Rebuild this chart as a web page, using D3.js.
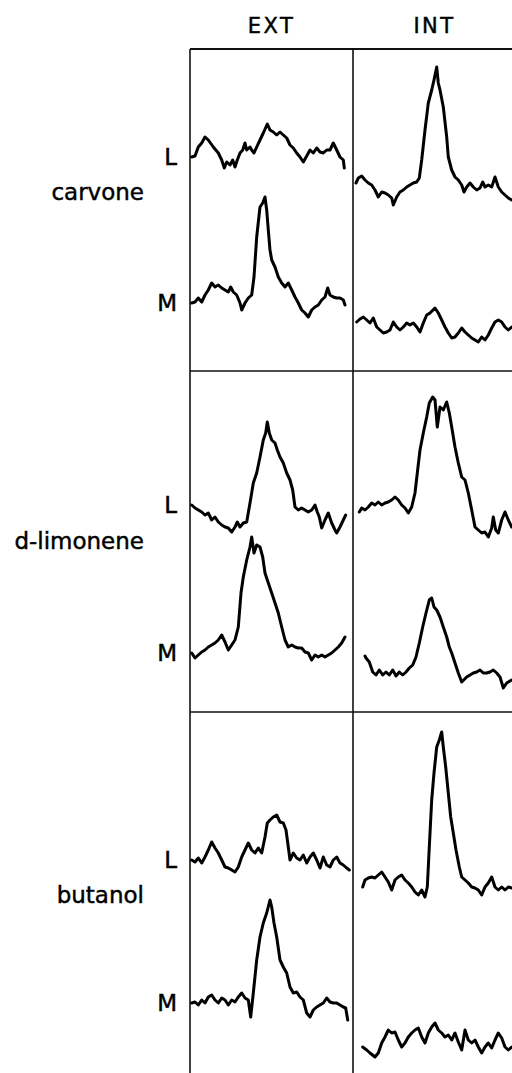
<!DOCTYPE html>
<html>
<head>
<meta charset="utf-8">
<script src="https://cdn.jsdelivr.net/npm/d3@7"></script>
<style>
  html, body { margin: 0; padding: 0; background: #fff; }
  svg { display: block; }
  text { font-family: "DejaVu Sans", sans-serif; fill: #000; stroke: #000; stroke-width: 0.45px; }
</style>
</head>
<body>
<div id="chart"></div>
<script>
'use strict';

// categories
const compounds = ["carvone", "d-limonene", "butanol"];
const conditions = ["EXT", "INT"];
const stimuli = ["L", "M"];

// traces: [time, response] (arbitrary units)
const carvoneExtL = [[1.7,232],[5,233],[8.3,242],[11.7,246],[15,252],[18.3,249],[23.3,242],[28.3,236],[31.7,229],[34.3,221],[36.7,227],[40,224],[42.7,229],[45,222],[47.3,229],[50,236],[52.7,239],[55,246],[56.7,239],[60,242],[61.7,239],[64,236],[66.7,242],[70,249],[73.3,256],[77.3,265],[80,259],[83.3,257],[86.7,254],[90,257],[93.3,254],[96.7,251],[100,244],[103.3,241],[106.7,236],[110,232],[113.3,227],[116.7,233],[120,239],[123.3,236],[126.7,241],[130,237],[133.3,236],[136.7,239],[140,239],[143.3,246],[146.7,239],[150,232],[153.3,229],[154.3,221]];
const carvoneExtM = [[1.7,86],[5,87],[8.3,91],[11.7,87],[15,94],[18.3,99],[21.7,106],[25,102],[28.3,104],[31.7,101],[35,99],[38.3,97],[40.7,102],[43.3,97],[46.7,94],[50,86],[51.7,79],[55,86],[58.3,91],[61.7,94],[64,112],[66.7,152],[70,182],[72.7,186],[75,192],[76.7,179],[78.3,159],[80,139],[81.7,129],[85,122],[88.3,112],[91.7,106],[95,102],[98.3,106],[101.7,99],[105,92],[108.3,86],[111.7,79],[115,76],[118.3,72],[121.7,79],[125,82],[128.3,84],[131.7,89],[135,92],[137.7,101],[140,94],[143.3,92],[146.7,91],[150,91],[153.3,89],[155,84]];
const carvoneIntL = [[3,206],[5.3,211],[8.7,213],[12,209],[15.3,206],[18.7,204],[22,199],[25.3,192],[28.7,197],[32,196],[35.3,194],[38.7,191],[40.3,184],[43.7,192],[47,197],[50.3,199],[53.7,202],[57,204],[60.3,206],[63.7,207],[66.3,211],[68.7,229],[72,259],[75.3,286],[78.7,299],[81,309],[83.7,322],[85.3,306],[87,299],[90.3,282],[93.7,252],[95.3,232],[98.7,219],[102,212],[105.3,209],[108.7,204],[111,197],[113.7,202],[117,206],[120.3,202],[123.7,199],[127,201],[129.7,207],[132,202],[135.3,204],[138.7,202],[142,212],[145.3,202],[148.7,197],[152,194],[155.3,191],[158.7,189]];
const carvoneIntM = [[3.7,67],[7,70],[10.3,72],[13.7,69],[17,66],[20.3,71],[23.7,62],[27,59],[30.3,56],[33.7,57],[37,59],[40.3,67],[43.7,62],[47,59],[50.3,62],[53.7,66],[57,64],[60.3,66],[63.7,62],[67,57],[70.3,66],[73.7,74],[77,76],[82,81],[85.3,76],[88.7,69],[92,62],[95.3,56],[98.7,51],[102,52],[105.3,56],[108.7,61],[112,57],[115.3,54],[118.7,51],[122,49],[125.3,47],[128.7,52],[132,49],[135.3,54],[138.7,61],[142,67],[145.3,69],[148.7,67],[152,62],[155.3,59],[158.7,62]];

const limoneneExtL = [[1.7,206],[5,203],[8.3,201],[11.7,199],[15,196],[18.3,198],[21.7,191],[25,194],[28.3,189],[31.7,186],[35,184],[38.3,183],[41.7,179],[45,184],[47.3,189],[50,184],[53.3,188],[56.7,189],[60,208],[63.3,228],[66.7,238],[70,254],[73.3,271],[75.7,278],[77.3,289],[79.3,278],[81.7,271],[85,268],[87.3,261],[90,254],[93.3,248],[96.7,238],[100,231],[102.7,221],[105,204],[108.3,201],[111.7,203],[115,201],[118.3,199],[121.7,201],[125,206],[127.3,199],[129.3,194],[131.7,183],[135,191],[138.3,198],[141.7,188],[145,181],[146.7,178],[150,184],[153.3,191],[155.7,196]];
const limoneneExtM = [[1.7,58],[5,53],[8.3,56],[11.7,59],[15,61],[18.3,64],[21.7,66],[25,68],[28.3,71],[31.7,76],[35,69],[38.3,61],[41.7,66],[45,71],[48.3,84],[51,118],[53.3,134],[56.7,151],[60,164],[61.7,174],[64,158],[66.7,166],[70,164],[72.7,154],[75,138],[78.3,128],[81.7,118],[85,108],[88.3,98],[91.7,84],[95,71],[98.3,64],[101.7,66],[105,64],[108.3,63],[111.7,63],[115,59],[118.3,58],[121.7,51],[125,56],[128.3,54],[131.7,56],[135,54],[138.3,56],[141.7,58],[145,61],[148.3,64],[151.7,68],[155,74]];
const limoneneIntL = [[6.3,199],[8.7,203],[12,201],[15.3,204],[18.7,208],[22,206],[25.3,209],[28.7,206],[32,208],[35.3,209],[38.7,211],[42,214],[45.3,211],[48.7,206],[52,203],[55.3,198],[58.7,204],[62,218],[64.3,238],[67,261],[70.3,278],[73.7,294],[76.3,308],[79.7,314],[82,311],[84.3,284],[87,304],[90.3,301],[93.7,309],[96.3,298],[98.7,284],[102,264],[105.3,248],[108.7,234],[112,231],[115.3,218],[118.7,201],[122,184],[125.3,181],[128.7,178],[132,179],[135.3,174],[138.7,183],[140.3,194],[142.7,181],[145.3,178],[148.7,191],[152,199],[155.3,191],[158.7,184]];
const limoneneIntM = [[12,55],[13,53],[16.3,49],[19.7,39],[23,36],[26.3,41],[29.7,36],[33,39],[36.3,36],[39.7,41],[43,35],[46.3,39],[49.7,36],[53,39],[56.3,43],[59.7,46],[63,54],[66.3,68],[69.7,84],[73,98],[76.3,111],[78.7,113],[81,104],[83.7,101],[87,94],[90.3,84],[93.7,74],[96.3,64],[98.7,58],[102,48],[105.3,38],[108.7,29],[113.7,34],[120.3,38],[123.7,39],[127,41],[130.3,38],[133.7,38],[137,39],[140.3,41],[143.7,38],[147,34],[150.3,23],[153.7,28],[158.7,31]];

const butanolExtL = [[1.7,192],[5,190],[8.3,194],[11.7,189],[15,195],[18.3,202],[21.7,210],[25,204],[28.3,199],[31.7,192],[35,185],[38.3,184],[41.7,182],[45,180],[48.3,185],[51.7,195],[55,202],[58.3,209],[61.7,202],[65,199],[68.3,204],[71.7,199],[75,215],[77.3,229],[80,232],[83.3,235],[86.7,237],[90,230],[93.3,229],[96,222],[98.3,205],[100,192],[103.3,199],[106.7,194],[110,192],[113.3,197],[116.7,189],[120,195],[123.3,199],[126.7,192],[130,184],[133.3,195],[136.7,187],[140,185],[143.3,192],[146.7,195],[150,189],[153.3,187],[156.7,184],[159.3,182]];
const butanolExtM = [[1.7,49],[5,50],[8.3,47],[11.7,52],[15,49],[18.3,55],[21.7,57],[25,52],[28.3,49],[31.7,54],[35,52],[38.3,47],[41.7,52],[45,50],[48.3,55],[51.7,59],[55,54],[58.3,52],[60.7,35],[63.3,59],[66.7,92],[70,115],[73.3,129],[76.7,139],[80,152],[81.7,145],[84,129],[86.7,115],[90,92],[93.3,85],[96.7,79],[100,65],[103.3,59],[106.7,60],[110,55],[113.3,52],[116.7,39],[120,35],[123.3,42],[126.7,45],[130,47],[133.3,49],[136.7,54],[140,50],[143.3,49],[146.7,49],[150,47],[153.3,45],[155.7,44],[157.7,32]];
const butanolIntL = [[9.7,165],[12,172],[15.3,174],[18.7,175],[22,174],[25.3,177],[28.7,180],[32,175],[35.3,170],[38.7,162],[42,172],[45.3,175],[48.7,177],[52,172],[55.3,169],[58.7,165],[62,160],[65.3,157],[68.7,162],[72,155],[74.3,165],[76.3,205],[78.7,252],[81,279],[83.7,305],[86.3,312],[88.7,320],[90.3,305],[92.7,285],[95.3,259],[97.7,235],[100.3,219],[103,202],[106.3,185],[108.7,175],[112,172],[115.3,169],[118.7,165],[122,164],[125.3,162],[128.7,157],[132,165],[135.3,169],[138.7,175],[142,165],[145.3,162],[148.7,165],[152,162],[155.3,165],[158.7,164]];
const butanolIntM = [[9.7,5],[13.7,2],[17,-1],[22,-5],[25.3,-1],[28.7,9],[32,15],[35.3,22],[38.7,19],[42,20],[45.3,12],[48.7,5],[52,9],[55.3,15],[58.7,19],[62,22],[65.3,24],[68.7,15],[72,9],[75.3,19],[78.7,25],[82,29],[85.3,22],[88.7,19],[92,15],[95.3,17],[98.7,12],[102,19],[105.3,10],[108.7,2],[112,22],[115.3,12],[118.7,9],[122,12],[125.3,5],[128.7,-1],[132,5],[135.3,9],[138.7,4],[142,12],[145.3,19],[148.7,14],[152,5],[155.3,2],[158.7,5]];

const traceData = {
  "carvone":    { EXT: { L: carvoneExtL,  M: carvoneExtM },  INT: { L: carvoneIntL,  M: carvoneIntM } },
  "d-limonene": { EXT: { L: limoneneExtL, M: limoneneExtM }, INT: { L: limoneneIntL, M: limoneneIntM } },
  "butanol":    { EXT: { L: butanolExtL,  M: butanolExtM },  INT: { L: butanolIntL,  M: butanolIntM } }
};

(function () {
  const width = 512, height = 1073;
  const rowTops = [49, 371, 712];
  const panelW = 163;

  const svg = d3.select("#chart").append("svg")
    .attr("width", width)
    .attr("height", height);

  const col = d3.scaleBand().domain(conditions).range([190, 190 + panelW * 2]);
  const tScale = c => d3.scaleLinear().domain([0, panelW]).range([col(c), col(c) + panelW]);
  const yScale = i => d3.scaleLinear().domain([0, 340]).range([rowTops[i] + 340, rowTops[i]]);

  // frame
  const frame = svg.append("g").attr("stroke", "#111").attr("fill", "none");
  rowTops.forEach((y, i) => {
    frame.append("line")
      .attr("x1", 190).attr("x2", width)
      .attr("y1", y).attr("y2", y)
      .attr("stroke-width", i === 0 ? 2 : 1.6);
  });
  conditions.forEach(c => {
    frame.append("line")
      .attr("x1", col(c)).attr("x2", col(c))
      .attr("y1", rowTops[0]).attr("y2", height)
      .attr("stroke-width", 1.6);
  });

  // column headers
  svg.selectAll(".colhead")
    .data(conditions)
    .enter()
    .append("text")
      .attr("class", "colhead")
      .attr("x", c => col(c) + panelW / 2)
      .attr("y", 33)
      .attr("text-anchor", "middle")
      .attr("font-size", 21)
      .attr("letter-spacing", 2.5)
      .text(c => c);

  compounds.forEach((name, i) => {
    const y = yScale(i);
    const g = svg.append("g");

    conditions.forEach(c => {
      const t = tScale(c);
      const line = d3.line().x(d => t(d[0])).y(d => y(d[1]));
      stimuli.forEach(s => {
        g.append("path")
          .datum(traceData[name][c][s])
          .attr("d", line)
          .attr("fill", "none")
          .attr("stroke", "#000")
          .attr("stroke-width", 3)
          .attr("stroke-linejoin", "round")
          .attr("stroke-linecap", "round");
      });
    });

    // L / M labels sit level with the start of the EXT traces
    const startY = s => y(traceData[name].EXT[s][0][1]);
    stimuli.forEach(s => {
      g.append("text")
        .attr("x", 177)
        .attr("y", startY(s))
        .attr("dy", "0.36em")
        .attr("text-anchor", "end")
        .attr("font-size", 23)
        .text(s);
    });

    g.append("text")
      .attr("x", 144)
      .attr("y", startY("L") + (startY("M") - startY("L")) * 0.25)
      .attr("dy", "0.3em")
      .attr("text-anchor", "end")
      .attr("font-size", 23)
      .text(name);
  });
})();
</script>
</body>
</html>
